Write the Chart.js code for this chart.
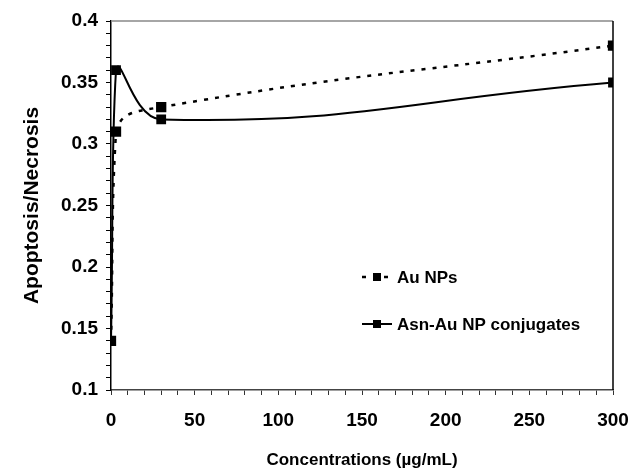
<!DOCTYPE html>
<html>
<head>
<meta charset="utf-8">
<script src="https://cdn.jsdelivr.net/npm/chart.js@4.4.0/dist/chart.umd.min.js"></script>
<style>
  html, body { margin: 0; padding: 0; background: #fff; }
</style>
</head>
<body>
<canvas id="myChart" width="641" height="476"></canvas>
<script>
// data
const concentrations = [0, 3, 30, 300];
const auNPs = [0.14, 0.31, 0.33, 0.38];
const asnConjugates = [0.14, 0.36, 0.32, 0.35];
const seriesNames = ['Au NPs', 'Asn-Au NP conjugates'];

const FONT = 'Arial, "Liberation Sans", sans-serif';

function toPoints(xs, ys) {
    return xs.map(function (x, i) { return { x: x, y: ys[i] }; });
}

// top/right frame + legend drawn inside the plot
const framePlugin = {
    id: 'frame',
    afterDraw: function (chart) {
        const c = chart.ctx;
        const a = chart.chartArea;
        c.save();
        c.lineWidth = 1.5;
        c.strokeStyle = '#888';
        c.beginPath();
        c.moveTo(a.left, a.top);
        c.lineTo(a.right, a.top);
        c.stroke();
        c.strokeStyle = '#000';
        c.beginPath();
        c.moveTo(a.right, a.top);
        c.lineTo(a.right, a.bottom);
        c.stroke();

        // legend
        const rows = [277, 324];
        chart.data.datasets.forEach(function (ds, i) {
            const y = rows[i];
            c.strokeStyle = '#000';
            c.lineWidth = ds.borderWidth;
            c.setLineDash(ds.borderDash || []);
            c.beginPath();
            c.moveTo(362, y);
            c.lineTo(392, y);
            c.stroke();
            c.setLineDash([]);
            c.fillStyle = '#000';
            c.fillRect(373, y - 4, 8, 8);
            c.font = 'bold 17px ' + FONT;
            c.textBaseline = 'middle';
            c.fillText(ds.label, 397, y + 1);
        });
        c.restore();
    }
};

const ctx = document.getElementById('myChart');
new Chart(ctx, {
    type: 'line',
    data: {
        datasets: [{
            label: seriesNames[0],
            data: toPoints(concentrations, auNPs),
            borderColor: '#000',
            backgroundColor: '#000',
            borderWidth: 2.5,
            borderDash: [4, 7],
            pointStyle: 'rect',
            pointRadius: 5.5,
            tension: 0.45,
            fill: false
        }, {
            label: seriesNames[1],
            data: toPoints(concentrations, asnConjugates),
            borderColor: '#000',
            backgroundColor: '#000',
            borderWidth: 2,
            pointStyle: 'rect',
            pointRadius: 5.5,
            tension: 0.45,
            fill: false
        }]
    },
    options: {
        responsive: false,
        animation: false,
        maintainAspectRatio: false,
        layout: { padding: { top: 21, right: 28, left: 0, bottom: 0 } },
        plugins: {
            legend: { display: false },
            tooltip: { enabled: false }
        },
        scales: {
            x: {
                type: 'linear',
                min: 0, max: 300,
                afterFit: function (s) { s.height = 86; },
                ticks: {
                    stepSize: 10,
                    autoSkip: false,
                    maxRotation: 0,
                    padding: 11,
                    color: '#000',
                    font: { family: FONT, size: 19, weight: 'bold', lineHeight: 1.6 },
                    callback: function (v) { return v % 50 === 0 ? String(v) : ''; }
                },
                grid: { drawOnChartArea: false, tickLength: 5, color: '#333', lineWidth: 1 },
                border: { color: '#444', width: 1.5 },
                title: {
                    display: true,
                    text: 'Concentrations (µg/mL)',
                    color: '#000',
                    font: { family: FONT, size: 17, weight: 'bold' },
                    padding: { top: 0, bottom: 5 }
                }
            },
            y: {
                min: 0.1, max: 0.4,
                afterFit: function (s) { s.width = 111; },
                ticks: {
                    stepSize: 0.01,
                    autoSkip: false,
                    padding: 8,
                    color: '#000',
                    font: { family: FONT, size: 19, weight: 'bold' },
                    callback: function (v) {
                        const r = Math.round(v * 100);
                        return r % 5 === 0 ? String(r / 100) : '';
                    }
                },
                grid: { drawOnChartArea: false, tickLength: 5, color: '#000', lineWidth: 1 },
                border: { color: '#000', width: 1.5 },
                title: {
                    display: true,
                    text: 'Apoptosis/Necrosis',
                    color: '#000',
                    font: { family: FONT, size: 21, weight: 'bold' },
                    padding: { top: 20, bottom: 0 }
                }
            }
        }
    },
    plugins: [framePlugin]
});
</script>
</body>
</html>
